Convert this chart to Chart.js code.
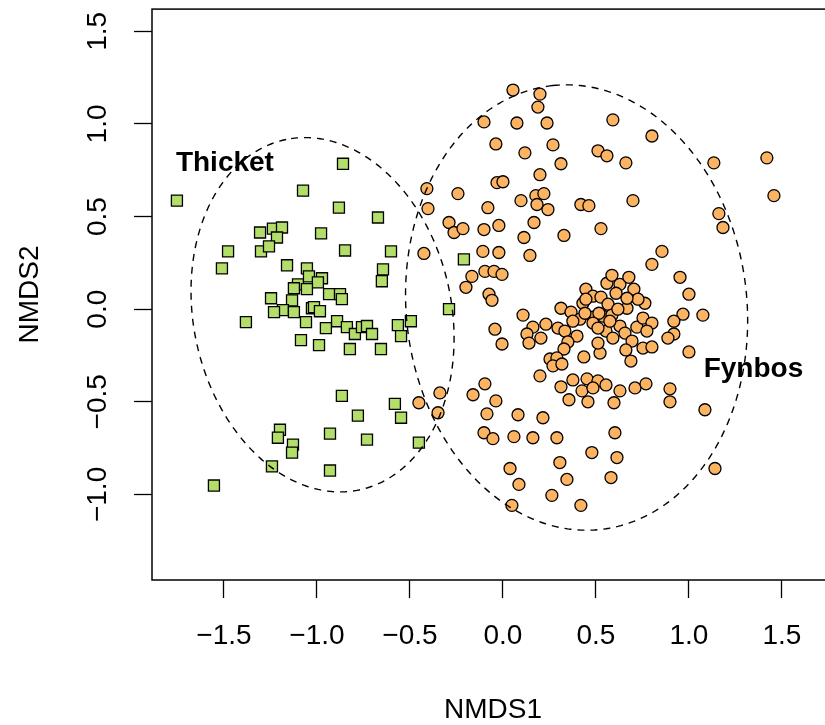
<!DOCTYPE html>
<html><head><meta charset="utf-8">
<script src="https://cdn.jsdelivr.net/npm/chart.js@4"></script>
<style>
html,body{margin:0;padding:0;background:#fff;overflow:hidden;}
#wrap{width:825px;height:725px;overflow:hidden;position:relative;background:#fff;}
canvas{display:block;}
</style></head><body>
<div id="wrap"><canvas id="c" width="860" height="725" style="width:860px;height:725px"></canvas></div>
<script>
// ---- data (NMDS scores) ----
const thicketX = [-0.860,-1.753,-1.075,-0.882,-0.672,-1.306,-1.237,-1.188,-1.215,-0.978,-1.478,-1.301,-1.258,-0.849,-0.602,-1.511,-1.161,-1.054,-0.645,-0.651,-1.102,-1.043,-0.973,-0.995,-1.054,-1.124,-1.247,-1.134,-0.935,-0.876,-0.866,-1.183,-1.231,-1.124,-1.027,-1.016,-0.984,-1.382,-1.059,-0.892,-0.952,-0.839,-0.796,-0.758,-0.731,-0.704,-0.565,-0.495,-0.548,-1.086,-0.989,-0.823,-0.656,-0.866,-0.581,-0.548,-0.780,-0.452,-1.199,-1.210,-1.129,-1.134,-0.930,-0.731,-1.242,-0.930,-1.554,-0.210,-0.290];
const thicketY = [0.785,0.586,0.640,0.548,0.495,0.414,0.435,0.441,0.387,0.409,0.312,0.312,0.339,0.317,0.312,0.220,0.237,0.220,0.215,0.151,0.134,0.177,0.167,0.145,0.108,0.113,0.059,0.048,0.081,0.081,0.054,-0.005,-0.016,-0.016,0.005,0.011,-0.011,-0.070,-0.070,-0.065,-0.102,-0.097,-0.134,-0.097,-0.091,-0.134,-0.086,-0.065,-0.145,-0.167,-0.194,-0.215,-0.215,-0.468,-0.511,-0.586,-0.575,-0.720,-0.651,-0.694,-0.731,-0.774,-0.672,-0.704,-0.849,-0.871,-0.952,0.269,0.000];

const fynbosX = [0.054,0.199,0.188,-0.102,0.075,0.237,0.591,-0.038,0.118,0.269,0.511,0.559,0.312,0.801,0.661,1.134,1.419,0.199,-0.032,0.000,-0.409,-0.242,0.097,0.177,0.220,0.183,0.242,0.419,0.462,0.699,1.457,-0.403,-0.081,1.161,1.183,-0.290,-0.263,-0.215,-0.102,-0.022,0.167,0.113,0.328,0.527,-0.425,-0.108,-0.022,0.145,0.855,0.801,-0.167,-0.199,-0.097,-0.048,-0.005,-0.075,-0.059,0.108,-0.043,-0.005,0.161,0.231,0.129,0.140,0.204,0.312,0.366,0.296,0.333,0.398,0.349,0.328,0.253,0.290,0.269,0.317,0.435,0.522,0.511,0.554,0.446,0.430,0.484,0.527,0.559,0.586,0.629,0.677,0.704,0.608,0.565,0.667,0.763,0.726,0.414,0.484,0.538,0.586,0.441,0.629,0.720,0.656,0.753,0.801,0.774,0.591,0.694,0.661,0.753,0.801,0.688,0.516,0.484,0.511,0.575,0.618,0.667,0.446,0.952,1.000,0.968,1.075,0.919,0.919,0.887,1.000,0.376,0.199,0.312,0.376,0.452,0.511,0.425,0.484,0.554,0.355,0.457,0.597,-0.097,-0.161,-0.038,-0.339,-0.452,-0.349,-0.086,0.081,0.215,-0.102,-0.054,0.059,0.161,0.290,0.602,0.478,0.613,0.306,0.038,0.344,0.581,0.086,0.263,0.048,0.419,0.629,0.710,0.769,0.898,0.898,1.086,1.140];
const fynbosY = [1.183,1.161,1.091,1.011,1.005,1.005,1.022,0.892,0.844,0.887,0.855,0.828,0.785,0.935,0.790,0.790,0.817,0.726,0.683,0.688,0.651,0.624,0.586,0.613,0.624,0.565,0.538,0.565,0.559,0.586,0.613,0.543,0.548,0.516,0.441,0.468,0.414,0.435,0.430,0.452,0.468,0.387,0.398,0.435,0.301,0.312,0.306,0.290,0.312,0.242,0.177,0.118,0.204,0.204,0.188,0.081,0.048,-0.032,-0.108,-0.188,-0.097,-0.081,-0.134,-0.183,-0.156,0.005,-0.016,-0.102,-0.118,-0.145,-0.177,-0.215,-0.269,-0.263,-0.306,-0.296,-0.258,-0.237,-0.183,-0.118,0.108,0.032,0.070,0.065,0.140,0.183,0.134,0.172,0.108,0.086,0.027,0.005,0.032,0.054,-0.054,-0.043,-0.038,-0.032,-0.022,-0.091,-0.097,-0.129,-0.048,-0.075,-0.118,-0.156,-0.172,-0.220,-0.210,-0.204,-0.280,-0.022,-0.075,-0.102,-0.065,0.000,0.059,0.054,0.172,0.081,-0.027,-0.032,-0.065,-0.134,-0.156,-0.231,-0.065,-0.360,-0.419,-0.382,-0.376,-0.387,-0.441,-0.425,-0.409,-0.489,-0.500,-0.505,-0.403,-0.462,-0.495,-0.452,-0.505,-0.559,-0.565,-0.570,-0.586,-0.667,-0.699,-0.688,-0.694,-0.694,-0.667,-0.774,-0.801,-0.828,-0.860,-0.919,-0.909,-0.946,-1.005,-1.059,-1.059,-0.441,-0.425,-0.403,-0.430,-0.500,-0.543,-0.860];

const xTicks = [-1.5,-1.0,-0.5,0.0,0.5,1.0,1.5];
const yTicks = [-1.0,-0.5,0.0,0.5,1.0,1.5];

// group labels (data coordinates)
const groupNames = ['Thicket','Fynbos'];
const groupLabelX = [-1.495, 1.347];
const groupLabelY = [0.790, -0.323];

// dispersion ellipses: centre, semi-axes, angle (degrees)
const ellipseCX = [-0.970, 0.396];
const ellipseCY = [-0.030, 0.009];
const ellipseA = [0.966, 1.205];
const ellipseB = [0.694, 0.916];
const ellipseAngle = [101.7, 96.1];

const FONT = '"Liberation Sans", Arial, Helvetica, sans-serif';
Chart.defaults.font.family = FONT;
Chart.defaults.color = '#000';

const fmt = v => (v < 0 ? '\u2212' : '') + Math.abs(v).toFixed(1);

const decor = {
  id: 'decor',
  afterDatasetsDraw(chart) {
    const {ctx, chartArea: ca, scales: {x, y}} = chart;
    ctx.save();
    ctx.beginPath();
    ctx.rect(ca.left, ca.top, ca.right - ca.left, ca.bottom - ca.top);
    ctx.clip();
    ctx.setLineDash([7, 6]);
    ctx.lineWidth = 1.4;
    ctx.strokeStyle = '#000';
    for (let i = 0; i < ellipseCX.length; i++) {
      const phi = ellipseAngle[i] * Math.PI / 180;
      ctx.beginPath();
      for (let k = 0; k <= 360; k++) {
        const t = k * Math.PI / 180;
        const dx = ellipseA[i] * Math.cos(t), dy = ellipseB[i] * Math.sin(t);
        const vx = ellipseCX[i] + dx * Math.cos(phi) - dy * Math.sin(phi);
        const vy = ellipseCY[i] + dx * Math.sin(phi) + dy * Math.cos(phi);
        const px = x.getPixelForValue(vx), py = y.getPixelForValue(vy);
        if (k) ctx.lineTo(px, py); else ctx.moveTo(px, py);
      }
      ctx.stroke();
    }
    ctx.restore();

    ctx.save();
    ctx.fillStyle = '#000';
    ctx.font = 'bold 28px ' + FONT;
    ctx.textAlign = 'center';
    ctx.textBaseline = 'middle';
    groupNames.forEach((s, i) => ctx.fillText(s, x.getPixelForValue(groupLabelX[i]), y.getPixelForValue(groupLabelY[i])));
    ctx.restore();

    ctx.save();
    ctx.strokeStyle = '#000';
    ctx.lineWidth = 1.5;
    ctx.strokeRect(ca.left, ca.top, ca.right - ca.left, ca.bottom - ca.top);
    ctx.restore();
  }
};

const toPts = (xs, ys) => xs.map((v, i) => ({x: v, y: ys[i]}));
const zeroPad = s => { s.paddingTop = 0; s.paddingBottom = 0; s.paddingLeft = 0; s.paddingRight = 0; };

new Chart(document.getElementById('c'), {
  type: 'scatter',
  data: {
    datasets: [
      {label: 'Fynbos', data: toPts(fynbosX, fynbosY), pointStyle: 'circle', pointRadius: 6, pointHoverRadius: 6,
       backgroundColor: '#FDB462', borderColor: '#000', borderWidth: 1.3},
      {label: 'Thicket', data: toPts(thicketX, thicketY), pointStyle: 'rect', pointRadius: 7.8, pointHoverRadius: 7.8,
       backgroundColor: '#B3DE69', borderColor: '#000', borderWidth: 1.3}
    ]
  },
  options: {
    responsive: false,
    animation: false,
    devicePixelRatio: 1,
    events: [],
    layout: {padding: {left: 0, top: 7, right: 26, bottom: 0}},
    plugins: {legend: {display: false}, tooltip: {enabled: false}},
    scales: {
      x: {
        type: 'linear', position: 'bottom', min: -1.887, max: 1.780,
        afterFit(s) { s.height = 145; zeroPad(s); },
        afterBuildTicks(s) { s.ticks = xTicks.map(v => ({value: v})); },
        grid: {display: true, drawOnChartArea: false, drawTicks: true, tickLength: 18, tickColor: '#000', tickWidth: 1.3, color: '#000'},
        border: {display: false},
        ticks: {autoSkip: false, maxRotation: 0, minRotation: 0, padding: 21, color: '#000', font: {size: 28}, callback: v => fmt(v)},
        title: {display: true, text: 'NMDS1', color: '#000', font: {size: 28, lineHeight: 1}, padding: {top: 0, bottom: 1}}
      },
      y: {
        type: 'linear', position: 'left', min: -1.462, max: 1.620,
        afterFit(s) { s.width = 152; zeroPad(s); },
        afterBuildTicks(s) { s.ticks = yTicks.map(v => ({value: v})); },
        grid: {display: true, drawOnChartArea: false, drawTicks: true, tickLength: 18, tickColor: '#000', tickWidth: 1.3, color: '#000'},
        border: {display: false},
        ticks: {autoSkip: false, minRotation: 90, maxRotation: 90, crossAlign: 'center', padding: 8, color: '#000', font: {size: 28}, callback: v => fmt(v)},
        title: {display: true, text: 'NMDS2', color: '#000', font: {size: 28, lineHeight: 1}, padding: {top: 16, bottom: 0}}
      }
    }
  },
  plugins: [decor]
});
</script>
</body></html>
